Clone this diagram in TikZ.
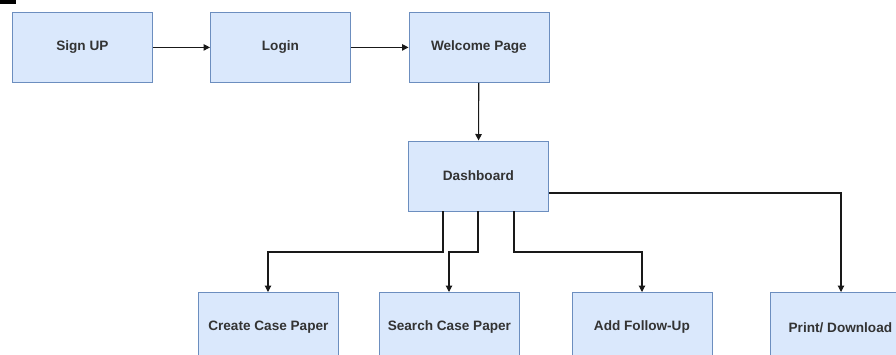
\documentclass[tikz,border=0pt]{standalone}
\usepackage{fontspec}
\setmainfont{Liberation Sans}
\usetikzlibrary{arrows.meta}
\definecolor{boxfill}{HTML}{DAE8FC}
\definecolor{boxline}{HTML}{6C8EBF}
\definecolor{txt}{HTML}{333333}
\begin{document}
\begin{tikzpicture}[x=1pt,y=-1pt,
  box/.style={draw=boxline,fill=boxfill,line width=0.8pt,minimum width=140pt,minimum height=70pt,inner sep=0pt,
    font=\fontsize{13.6}{15}\selectfont\bfseries,text=txt,anchor=north west},
  conn/.style={draw=black!90,line width=1.1pt,-{Triangle[length=6.5pt,width=6.5pt]}}]
\useasboundingbox (0,0) rectangle (896,354);
\fill[black] (0,0) rectangle (16,4);
\node[box] (signup) at (12,12) {Sign UP};
\node[box] (login) at (210,12) {Login};
\node[box] (welcome) at (408.5,12) {Welcome Page};
\node[box] (dash) at (408,140.5) {Dashboard};
\node[box] (create) at (198,292) {Create Case Paper};
\node[box] (search) at (379,292) {Search Case Paper};
\node[box] (follow) at (571.5,292) {Add Follow-Up};
\node[box] (print) at (770,292) {Print/ Download};
\draw[conn] (signup) -- (login);
\draw[conn] (login) -- (welcome);
\draw[conn] (welcome) -- (dash);
\draw[conn] (dash.south -| 443,0) |- (268,252) -- (create.north -| 268,0);
\draw[conn] (dash.south -| 478,0) |- (449,252) -- (search.north -| 449,0);
\draw[conn] (dash.south -| 514,0) |- (642,252) -- (follow.north -| 642,0);
\draw[conn] (dash.east |- 0,193) -| (print.north -| 841,0);
\end{tikzpicture}
\end{document}
